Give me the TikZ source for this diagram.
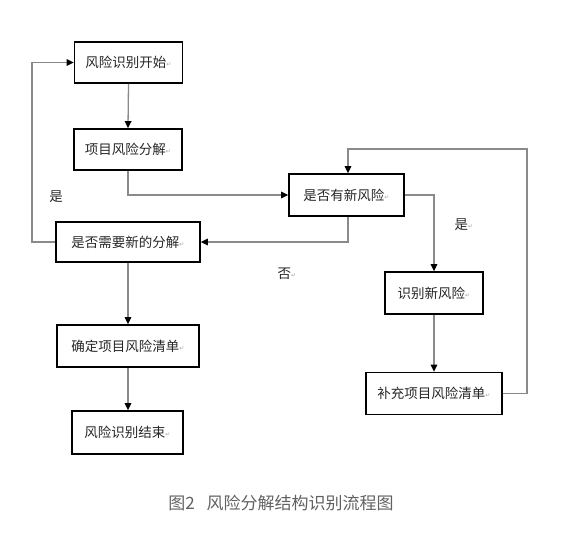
\documentclass[tikz,border=0pt]{standalone}
\usepackage{fontspec}
\setmainfont{Noto Sans CJK SC}
\newfontfamily\symf{DejaVu Sans}
\usetikzlibrary{arrows.meta}
\definecolor{linegray}{HTML}{8A8A8A}
\definecolor{txt}{HTML}{262626}
\newcommand{\parmk}{{\symf\fontsize{6}{6}\selectfont\color{gray!70}\raisebox{0.3ex}{↵}}}
\tikzset{
  box/.style={draw=black, line width=1.6pt, inner sep=0pt, text=txt,
    font=\fontsize{13.5}{14}\selectfont, minimum height=41pt},
  conn/.style={draw=linegray, line width=1.3pt,
    -{Triangle[length=7pt,width=6.5pt,color=black]}},
  lab/.style={text=txt, font=\fontsize{13.5}{14}\selectfont, inner sep=0pt}
}
\begin{document}
\begin{tikzpicture}[x=1pt,y=-1pt]
\useasboundingbox (0,0) rectangle (562,533);
\node[box, minimum width=108pt] (b1) at (128.5,62.5) {风险识别开始\parmk};
\node[box, minimum width=108pt] (b2) at (128,149.5) {项目风险分解\parmk};
\node[box, minimum width=144pt, minimum height=40pt] (b3) at (128,242) {是否需要新的分解\parmk};
\node[box, minimum width=115pt, minimum height=42pt] (b4) at (346.5,195) {是否有新风险\parmk};
\node[box, minimum width=98pt, minimum height=42pt] (b5) at (434,293) {识别新风险\parmk};
\node[box, minimum width=136pt, minimum height=42pt] (b6) at (434,393.5) {补充项目风险清单\parmk};
\node[box, minimum width=142pt, minimum height=42pt] (b7) at (128,346) {确定项目风险清单\parmk};
\node[box, minimum width=111pt, minimum height=43pt] (b8) at (127.5,432.5) {风险识别结束\parmk};
\coordinate (tr) at (527,149);
\coordinate (lc) at (32,242);
\draw[conn] (b1.south) -- (b2.north);
\draw[conn] (b2.south) |- (b4.west);
\draw[conn] ([xshift=1.5pt]b4.south) |- (b3.east);
\draw[conn] (b3.west) -- (lc) |- (b1.west);
\draw[conn] (b4.east) -| (b5.north);
\draw[conn] (b5.south) -- (b6.north);
\draw[conn] (b6.east) -| (tr) -| ([xshift=1.5pt]b4.north);
\draw[conn] (b3.south) -- (b7.north);
\draw[conn] (b7.south) -- ([xshift=0.5pt]b8.north);
\node[lab] (l1) at (56,197) {是};
\node[lab] (l2) at (464,225) {是\parmk};
\node[lab] (l3) at (287,274) {否\parmk};
\node[text=black!62, font=\fontsize{17}{18}\selectfont, inner sep=0pt] (cap) at (281,503) {图2\hspace{0.7em}风险分解结构识别流程图};
\end{tikzpicture}
\end{document}
